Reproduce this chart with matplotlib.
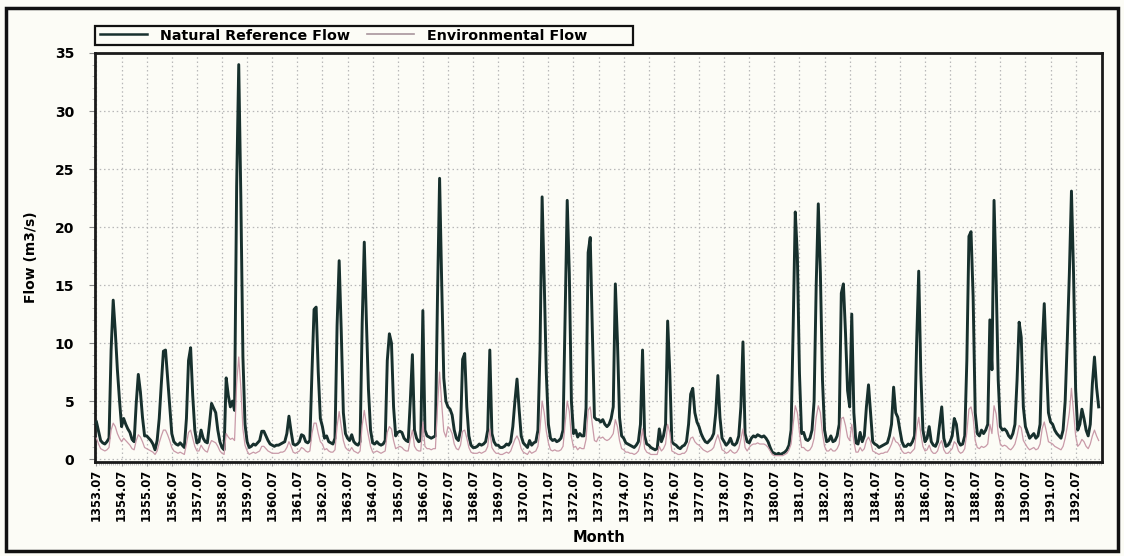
import numpy as np
import matplotlib
matplotlib.use("Agg")
import matplotlib.pyplot as plt
from matplotlib.patches import Rectangle
from matplotlib.ticker import MultipleLocator, FixedLocator

# ---- data: monthly flows (m3/s), one row per water year (month 07 .. 06) ----
years = list(range(1353, 1393))
tick_labels = [f"{y}.07" for y in years]

natural_1353_1362 = [
    [3.2, 2.4, 1.6, 1.4, 1.3, 1.5, 1.8, 9.4, 13.7, 11.0, 7.7, 5.1],
    [2.8, 3.5, 3.0, 2.6, 2.3, 1.7, 1.5, 4.8, 7.3, 5.8, 3.6, 2.0],
    [2.0, 1.8, 1.6, 1.3, 0.8, 1.6, 3.5, 6.5, 9.3, 9.4, 7.0, 4.5],
    [2.2, 1.5, 1.3, 1.2, 1.4, 1.2, 1.0, 3.5, 8.5, 9.6, 5.5, 2.5],
    [1.4, 1.5, 2.5, 1.8, 1.5, 1.4, 3.0, 4.8, 4.4, 4.0, 2.5, 1.5],
    [1.0, 0.8, 7.0, 5.5, 4.5, 5.0, 4.2, 23.5, 34.0, 22.6, 8.8, 3.0],
    [1.5, 1.0, 1.1, 1.3, 1.2, 1.4, 1.6, 2.4, 2.4, 2.0, 1.6, 1.3],
    [1.2, 1.1, 1.2, 1.2, 1.3, 1.4, 1.5, 2.2, 3.7, 2.4, 1.3, 1.2],
    [1.3, 1.5, 2.1, 2.0, 1.5, 1.4, 1.6, 7.5, 12.9, 13.1, 7.5, 3.5],
    [2.8, 1.8, 2.0, 1.5, 1.4, 1.3, 1.8, 11.5, 17.1, 11.0, 4.0, 2.2],
]
natural_1363_1372 = [
    [1.8, 1.6, 2.1, 1.5, 1.3, 1.2, 1.5, 11.7, 18.7, 12.0, 6.0, 2.5],
    [1.4, 1.3, 1.5, 1.3, 1.2, 1.3, 1.6, 8.5, 10.8, 10.0, 4.5, 2.0],
    [2.3, 2.4, 2.3, 1.8, 1.6, 1.5, 5.0, 9.0, 2.5, 1.8, 1.5, 1.6],
    [12.8, 2.5, 2.0, 1.9, 1.8, 1.9, 2.0, 14.0, 24.2, 15.2, 7.0, 5.0],
    [4.5, 4.3, 3.8, 2.5, 1.8, 1.6, 2.5, 8.6, 9.1, 4.5, 2.0, 1.2],
    [1.0, 1.0, 1.1, 1.3, 1.2, 1.3, 1.5, 2.5, 9.4, 2.2, 1.5, 1.2],
    [1.2, 1.0, 1.0, 1.1, 1.3, 1.2, 1.5, 2.8, 5.0, 6.9, 4.3, 2.0],
    [1.4, 1.2, 1.0, 1.6, 1.2, 1.4, 1.5, 2.5, 9.4, 22.6, 15.4, 7.4],
    [3.0, 1.8, 1.6, 1.7, 1.5, 1.6, 1.8, 2.5, 12.3, 22.3, 16.0, 5.0],
    [2.2, 2.5, 1.9, 2.2, 2.0, 2.0, 4.4, 17.8, 19.1, 11.1, 3.6, 3.4],
]
natural_1373_1382 = [
    [3.4, 3.2, 3.4, 3.0, 2.8, 3.0, 3.5, 4.5, 15.1, 10.2, 3.6, 2.0],
    [1.8, 1.4, 1.3, 1.2, 1.1, 1.0, 1.2, 1.5, 3.0, 9.4, 2.0, 1.3],
    [1.2, 1.0, 0.9, 0.8, 0.9, 2.6, 1.5, 2.0, 3.0, 11.9, 7.6, 1.5],
    [1.3, 1.2, 1.0, 0.9, 1.1, 1.2, 1.5, 3.0, 5.6, 6.1, 4.0, 3.2],
    [2.8, 2.2, 1.8, 1.5, 1.4, 1.6, 1.8, 2.2, 4.0, 7.2, 3.6, 1.8],
    [1.5, 1.2, 1.4, 1.8, 1.3, 1.2, 1.4, 2.0, 4.5, 10.1, 2.2, 1.5],
    [1.4, 1.8, 2.0, 1.9, 2.1, 2.0, 1.9, 2.0, 1.8, 1.5, 1.0, 0.6],
    [0.5, 0.4, 0.5, 0.4, 0.5, 0.6, 0.8, 1.2, 2.5, 11.4, 21.3, 17.5],
    [7.4, 2.2, 2.3, 1.7, 1.6, 1.8, 2.5, 5.0, 15.0, 22.0, 16.0, 6.8],
    [2.5, 1.5, 1.6, 2.0, 1.5, 1.6, 2.0, 3.0, 14.3, 15.1, 10.9, 5.9],
]
natural_1383_1392 = [
    [4.5, 12.5, 4.0, 1.4, 1.3, 2.3, 1.5, 2.0, 4.5, 6.4, 4.0, 1.5],
    [1.3, 1.2, 1.0, 1.1, 1.2, 1.3, 1.4, 2.0, 3.0, 6.2, 4.0, 3.6],
    [2.5, 1.5, 1.1, 1.1, 1.3, 1.2, 1.5, 2.0, 10.0, 16.2, 7.4, 2.5],
    [1.5, 1.8, 2.8, 1.5, 1.2, 1.1, 1.5, 3.0, 4.5, 1.8, 1.1, 1.2],
    [1.5, 2.0, 3.5, 3.0, 1.5, 1.2, 1.3, 2.0, 8.5, 19.2, 19.6, 14.0],
    [4.0, 2.2, 2.0, 2.5, 2.2, 2.5, 3.0, 12.0, 7.7, 22.3, 15.4, 6.8],
    [2.8, 2.5, 2.6, 2.4, 2.0, 1.8, 2.2, 3.0, 6.8, 11.8, 10.5, 4.5],
    [2.8, 2.3, 1.8, 2.0, 2.2, 1.8, 2.0, 3.0, 9.6, 13.4, 8.5, 4.0],
    [3.2, 3.0, 2.5, 2.2, 2.0, 1.8, 2.5, 5.0, 10.2, 16.0, 23.1, 16.0],
    [6.0, 2.5, 3.0, 4.3, 3.5, 2.5, 2.0, 3.0, 6.5, 8.8, 6.2, 4.5],
]

env_1353_1362 = [
    [1.8, 1.3, 0.9, 0.8, 0.7, 0.8, 1.0, 2.5, 3.1, 2.8, 2.2, 1.8],
    [1.5, 1.8, 1.6, 1.4, 1.2, 0.9, 0.8, 1.6, 2.1, 1.9, 1.5, 1.0],
    [0.9, 0.8, 0.7, 0.6, 0.4, 0.7, 1.4, 2.0, 2.5, 2.5, 2.1, 1.6],
    [1.0, 0.7, 0.6, 0.5, 0.6, 0.5, 0.4, 1.3, 2.3, 2.5, 1.8, 1.1],
    [0.7, 0.7, 1.2, 0.9, 0.7, 0.6, 1.2, 1.6, 1.5, 1.4, 1.1, 0.7],
    [0.5, 0.4, 2.2, 1.9, 1.7, 1.8, 1.6, 6.5, 8.8, 6.2, 2.6, 1.2],
    [0.7, 0.4, 0.5, 0.6, 0.5, 0.6, 0.7, 1.1, 1.1, 0.9, 0.7, 0.6],
    [0.5, 0.5, 0.5, 0.5, 0.6, 0.6, 0.7, 1.0, 1.5, 1.1, 0.6, 0.5],
    [0.6, 0.7, 1.0, 0.9, 0.7, 0.6, 0.7, 2.2, 3.1, 3.1, 2.2, 1.5],
    [1.3, 0.8, 0.9, 0.7, 0.6, 0.6, 0.8, 2.8, 4.1, 2.8, 1.6, 1.0],
]
env_1363_1372 = [
    [0.8, 0.7, 1.0, 0.7, 0.6, 0.5, 0.7, 2.9, 4.2, 3.0, 2.0, 1.1],
    [0.6, 0.6, 0.7, 0.6, 0.5, 0.6, 0.7, 2.3, 2.8, 2.6, 1.6, 0.9],
    [1.0, 1.1, 1.0, 0.8, 0.7, 0.7, 1.7, 2.5, 1.1, 0.8, 0.7, 0.7],
    [3.2, 1.1, 0.9, 0.9, 0.8, 0.9, 0.9, 4.5, 7.5, 4.8, 2.4, 1.9],
    [2.8, 2.6, 2.2, 1.3, 0.9, 0.8, 1.2, 2.4, 2.5, 1.8, 1.0, 0.6],
    [0.5, 0.5, 0.5, 0.6, 0.5, 0.6, 0.7, 1.1, 2.6, 1.0, 0.7, 0.5],
    [0.5, 0.4, 0.4, 0.5, 0.6, 0.5, 0.7, 1.2, 1.7, 2.0, 1.6, 0.9],
    [0.6, 0.5, 0.4, 0.7, 0.5, 0.6, 0.7, 1.1, 2.6, 5.0, 4.0, 2.4],
    [1.4, 0.8, 0.7, 0.8, 0.7, 0.7, 0.8, 1.1, 3.0, 5.0, 4.1, 1.9],
    [1.0, 1.1, 0.8, 1.0, 0.9, 0.9, 1.7, 4.2, 4.5, 3.0, 1.6, 1.5],
]
env_1373_1382 = [
    [1.9, 1.8, 1.9, 1.7, 1.6, 1.7, 1.9, 2.2, 3.4, 2.8, 1.6, 0.9],
    [0.8, 0.6, 0.6, 0.5, 0.5, 0.4, 0.5, 0.7, 1.3, 2.6, 0.9, 0.6],
    [0.5, 0.4, 0.4, 0.4, 0.4, 1.1, 0.7, 0.9, 1.3, 3.0, 2.3, 0.7],
    [0.6, 0.5, 0.4, 0.4, 0.5, 0.5, 0.7, 1.3, 1.8, 1.9, 1.5, 1.3],
    [1.2, 1.0, 0.8, 0.7, 0.6, 0.7, 0.8, 1.0, 1.6, 2.1, 1.5, 0.8],
    [0.7, 0.5, 0.6, 0.8, 0.6, 0.5, 0.6, 0.9, 1.7, 2.6, 1.0, 0.7],
    [1.0, 1.2, 1.3, 1.3, 1.4, 1.3, 1.3, 1.3, 1.2, 1.0, 0.7, 0.4],
    [0.3, 0.3, 0.3, 0.3, 0.3, 0.4, 0.5, 0.8, 1.3, 3.0, 4.6, 4.0],
    [2.3, 1.0, 1.0, 0.8, 0.7, 0.8, 1.1, 1.8, 3.6, 4.6, 4.0, 2.2],
    [1.1, 0.7, 0.7, 0.9, 0.7, 0.7, 0.9, 1.3, 3.5, 3.6, 2.9, 1.9],
]
env_1383_1392 = [
    [1.6, 3.0, 1.5, 0.6, 0.6, 1.0, 0.7, 0.9, 1.6, 1.9, 1.5, 0.7],
    [0.6, 0.5, 0.4, 0.5, 0.5, 0.6, 0.6, 0.9, 1.3, 1.9, 1.5, 1.4],
    [1.1, 0.7, 0.5, 0.5, 0.6, 0.5, 0.7, 0.9, 2.6, 3.6, 2.2, 1.1],
    [0.7, 0.8, 1.2, 0.7, 0.5, 0.5, 0.7, 1.3, 1.6, 0.8, 0.5, 0.5],
    [0.7, 0.9, 1.5, 1.3, 0.7, 0.5, 0.6, 0.9, 2.3, 4.3, 4.5, 3.6],
    [1.6, 1.0, 0.9, 1.1, 1.0, 1.1, 1.3, 3.0, 2.2, 4.6, 3.9, 2.2],
    [1.3, 1.1, 1.2, 1.1, 0.9, 0.8, 1.0, 1.3, 2.0, 2.9, 2.7, 1.6],
    [1.3, 1.0, 0.8, 0.9, 1.0, 0.8, 0.9, 1.3, 2.6, 3.2, 2.4, 1.5],
    [1.4, 1.3, 1.1, 1.0, 0.9, 0.8, 1.1, 1.8, 2.8, 4.0, 6.1, 4.1],
    [2.0, 1.1, 1.3, 1.7, 1.5, 1.1, 0.9, 1.3, 2.0, 2.5, 2.0, 1.6],
]

natural = np.concatenate([np.ravel(a) for a in
                          (natural_1353_1362, natural_1363_1372,
                           natural_1373_1382, natural_1383_1392)])
environmental = np.concatenate([np.ravel(a) for a in
                                (env_1353_1362, env_1363_1372,
                                 env_1373_1382, env_1383_1392)])
months = np.arange(len(natural))

# ---- figure ----
BG = "#fcfcf6"
W, H = 1124, 556
fig = plt.figure(figsize=(W / 100, H / 100), dpi=100, facecolor=BG)

left, right, top, bottom = 95, 1102, 53, 462
ax = fig.add_axes([left / W, (H - bottom) / H, (right - left) / W, (bottom - top) / H])
ax.set_facecolor(BG)

nat_color = "#17302d"
env_color = "#c99aa8"
ln1, = ax.plot(months, natural, color=nat_color, lw=2.1, zorder=3,
               label="Natural Reference Flow")
ln2, = ax.plot(months, environmental, color=env_color, lw=0.9, zorder=4,
               label="Environmental Flow")

ax.set_xlim(-0.7, 480.6)
ax.set_ylim(-0.25, 35)

ax.xaxis.set_major_locator(FixedLocator(np.arange(0, 480, 12)))
ax.set_xticklabels(tick_labels, rotation=90, fontsize=8.3, fontweight="bold")
ax.xaxis.set_minor_locator(MultipleLocator(1))
ax.yaxis.set_major_locator(MultipleLocator(5))
ax.yaxis.set_minor_locator(MultipleLocator(1))
for lab in ax.get_yticklabels():
    lab.set_fontweight("bold")
    lab.set_fontsize(10)

ax.tick_params(axis="x", which="major", length=3, width=0.8, color="#999999", pad=2)
ax.tick_params(axis="x", which="minor", length=2, width=0.5, color="#aaaaaa")
ax.tick_params(axis="y", which="major", length=4, width=0.8, color="#888888", pad=11)
ax.tick_params(axis="y", which="minor", length=2, width=0.5, color="#aaaaaa")

ax.grid(True, which="major", linestyle=(0, (1.2, 2.2)), color="#b8b8b8", lw=0.9)
ax.set_axisbelow(True)
for sp in ax.spines.values():
    sp.set_linewidth(2.0)
    sp.set_color("#1a1a1a")

ax.set_ylabel("Flow (m3/s)", fontsize=10, fontweight="bold", labelpad=12)
ax.set_xlabel("Month", fontsize=10.5, fontweight="bold", labelpad=6)

# legend: entries without frame, framed by a separate box as in the picture
leg_h = ln1, ln2
lg = fig.legend(handles=leg_h, labels=[h.get_label() for h in leg_h],
                loc="center left",
                bbox_to_anchor=(100 / W, (H - 35.5) / H),
                ncol=2, frameon=False,
                handlelength=3.3, handletextpad=0.9, columnspacing=1.2,
                borderpad=0.0, borderaxespad=0.0,
                prop={"weight": "bold", "size": 10.3})
lg.legend_handles[0].set_linewidth(1.8)
lg.legend_handles[1].set_color("#a8959c")
lg.legend_handles[1].set_linewidth(1.2)
fig.patches.append(Rectangle((95 / W, (H - 45) / H), 538 / W, 19 / H,
                             transform=fig.transFigure, fill=False,
                             edgecolor="#111111", lw=1.6))

# outer frame of the picture
fig.patches.append(Rectangle((6 / W, 5 / H), 1112 / W, 543 / H, transform=fig.transFigure,
                             fill=False, edgecolor="#111111", lw=2.5))

fig.savefig("out.png", dpi=100, facecolor=BG)
